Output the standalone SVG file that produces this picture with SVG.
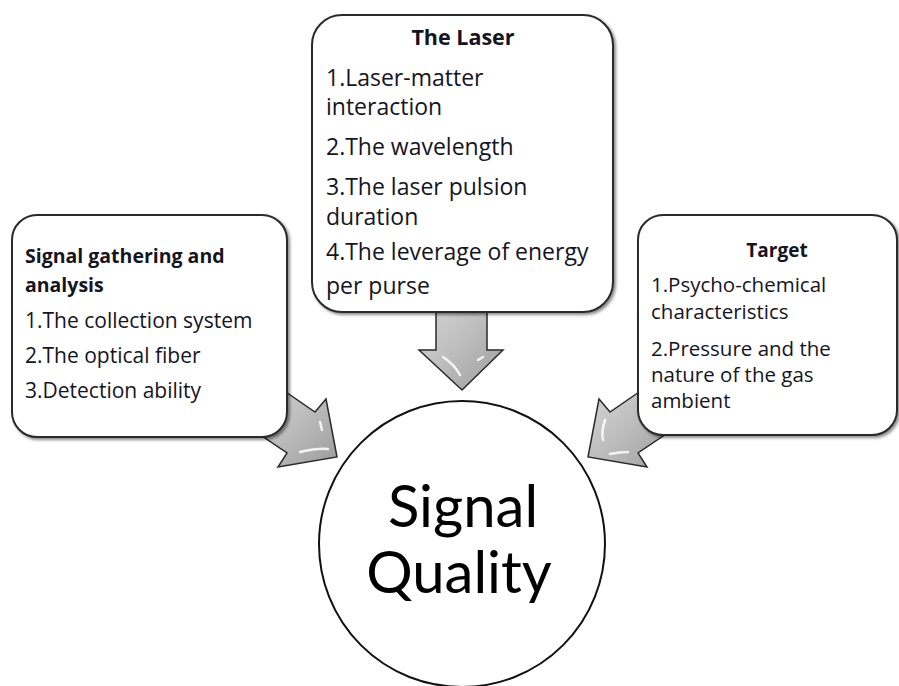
<svg xmlns="http://www.w3.org/2000/svg" width="899" height="686" viewBox="0 0 899 686">
  <style>
    .box { fill: #ffffff; stroke: #2a2a2a; stroke-width: 2; filter: url(#shadow); }
    .arrow { fill: url(#arrowFill); stroke: #2a2a2a; stroke-width: 1.5; stroke-linejoin: miter; }
    .shine { fill: none; stroke: #ffffff; stroke-width: 2.5; stroke-linecap: round; opacity: 0.85; }
    .t { font-family: "Open Sans", "Liberation Sans", sans-serif; fill: #15151f; }
    .title { font-weight: bold; }
    .big { font-family: Lato, "Liberation Sans", sans-serif; fill: #000; font-size: 58px; text-anchor: middle; }
  </style>
  <defs>
    <filter id="shadow" x="-10%" y="-10%" width="120%" height="120%">
      <feDropShadow dx="2" dy="2" stdDeviation="1.5" flood-color="#000" flood-opacity="0.45"/>
    </filter>
    <linearGradient id="arrowFill" x1="0" y1="0" x2="1" y2="1">
      <stop offset="0" stop-color="#d8d8d8"/>
      <stop offset="0.5" stop-color="#bdbdbd"/>
      <stop offset="1" stop-color="#9c9c9c"/>
    </linearGradient>
  </defs>

  <rect width="899" height="686" fill="#ffffff"/>

  <!-- block arrows feeding into the central circle -->
  <g id="connectors">
    <polygon class="arrow" points="436,300 487,300 487,350 503,350 462,390 419,350 436,350"/>
    <path class="shine" d="M443,357 Q455,365 460,375"/>
    <path class="shine" d="M478,360 L483,357"/>

    <polygon class="arrow" points="270,381 315,412 326,399 337,457 278,467 287,453 250,428"/>
    <path class="shine" d="M300,452 Q318,448 328,449"/>
    <path class="shine" d="M320,422 L322,430"/>

    <polygon class="arrow" points="655,381 610,412 599,399 588,457 647,467 638,453 675,428"/>
    <path class="shine" d="M605,420 Q601,432 603,440"/>
    <path class="shine" d="M610,454 Q620,452 628,452"/>
  </g>

  <!-- central result node -->
  <g id="signal-quality">
    <circle cx="462" cy="544" r="143" fill="#ffffff" stroke="#111111" stroke-width="2"/>
    <text class="big" x="463" y="527">Signal</text>
    <text class="big" x="459" y="593">Quality</text>
  </g>

  <!-- laser parameters -->
  <g id="the-laser">
    <rect class="box" x="312" y="15" width="301" height="297" rx="30" ry="30"/>
    <text class="t title" x="463" y="45" font-size="21.5" text-anchor="middle">The Laser</text>
    <g font-size="23">
      <text class="t" x="326" y="86">1.Laser-matter</text>
      <text class="t" x="326" y="115">interaction</text>
      <text class="t" x="326" y="155">2.The wavelength</text>
      <text class="t" x="326" y="195">3.The laser pulsion</text>
      <text class="t" x="326" y="225">duration</text>
      <text class="t" x="326" y="260">4.The leverage of energy</text>
      <text class="t" x="326" y="294">per purse</text>
    </g>
  </g>

  <!-- acquisition parameters -->
  <g id="signal-gathering">
    <rect class="box" x="12" y="215" width="275" height="222" rx="25" ry="25"/>
    <g font-size="19.5">
      <text class="t title" x="25" y="263">Signal gathering and</text>
      <text class="t title" x="25" y="292">analysis</text>
    </g>
    <g font-size="21">
      <text class="t" x="25" y="328">1.The collection system</text>
      <text class="t" x="25" y="363">2.The optical fiber</text>
      <text class="t" x="25" y="398">3.Detection ability</text>
    </g>
  </g>

  <!-- sample parameters -->
  <g id="target">
    <rect class="box" x="638" y="215" width="259" height="220" rx="25" ry="25"/>
    <text class="t title" x="777" y="257" font-size="19" text-anchor="middle">Target</text>
    <g font-size="20.5">
      <text class="t" x="651" y="292">1.Psycho-chemical</text>
      <text class="t" x="651" y="319">characteristics</text>
      <text class="t" x="651" y="356">2.Pressure and the</text>
      <text class="t" x="651" y="382">nature of the gas</text>
      <text class="t" x="651" y="408">ambient</text>
    </g>
  </g>
</svg>
